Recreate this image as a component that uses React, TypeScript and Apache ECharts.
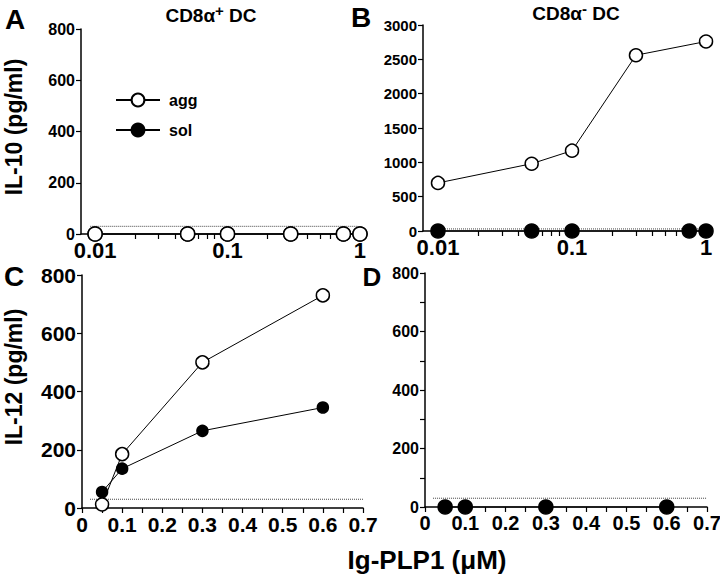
import React, { useEffect, useRef } from "react";
import * as echarts from "echarts";

const FONT = '"Liberation Sans", Arial, Helvetica, sans-serif';

// Panel A (IL-10, CD8a+ DC), log x
const aggAx = [0.01, 0.05, 0.1, 0.3, 0.75, 1];
const aggAy = [0, 0, 0, 0, 0, 0];
const solAx = [0.01, 0.05, 0.1, 0.3, 0.75, 1];
const solAy = [0, 0, 0, 0, 0, 0];

// Panel B (IL-10, CD8a- DC), log x
const aggBx = [0.01, 0.05, 0.1, 0.3, 1];
const aggBy = [700, 980, 1170, 2560, 2760];
const solBx = [0.01, 0.05, 0.1, 0.75, 1];
const solBy = [0, 0, 0, 0, 0];

// Panel C (IL-12, CD8a+ DC), linear x
const aggCx = [0.05, 0.1, 0.3, 0.6];
const aggCy = [12, 185, 500, 730];
const solCx = [0.05, 0.1, 0.3, 0.6];
const solCy = [55, 135, 265, 345];

// Panel D (IL-12, CD8a- DC), linear x
const solDx = [0.05, 0.1, 0.3, 0.6];
const solDy = [0, 0, 0, 0];

// detection limit (dotted)
const limit = 30;
const limitA = [0.0092, 0.97];
const limitB = [0.0095, 1.0];
const limitC = [0.02, 0.7];
const limitD = [0.02, 0.7];

const logLabels = [0.01, 0.1, 1];
const logTicks = [
  0.01, 0.02, 0.03, 0.04, 0.05, 0.06, 0.07, 0.08, 0.09,
  0.1, 0.2, 0.3, 0.4, 0.5, 0.6, 0.7, 0.8, 0.9, 1,
];

const pair = (xs: number[], ys: number[]) => xs.map((x, i) => [x, ys[i]]);

function markSeries(name: string, idx: number, xs: number[], ys: number[], filled: boolean, size: number) {
  return {
    type: "line",
    name,
    xAxisIndex: idx,
    yAxisIndex: idx,
    data: pair(xs, ys),
    symbol: "circle",
    symbolSize: size,
    showSymbol: true,
    clip: false,
    itemStyle: { color: filled ? "#000" : "#fff", borderColor: "#000", borderWidth: 1.5 },
    lineStyle: { color: "#000", width: 1 },
    z: filled ? 3 : 4,
    silent: true,
  };
}

function limitSeries(idx: number, range: number[]) {
  return {
    type: "line",
    name: "limit",
    xAxisIndex: idx,
    yAxisIndex: idx,
    data: [[range[0], limit], [range[1], limit]],
    symbol: "none",
    clip: false,
    lineStyle: { color: "#444", width: 1, type: [1, 1] },
    z: 2,
    silent: true,
  };
}

const axisLine = { show: true, onZero: false, lineStyle: { color: "#000", width: 1.5 } };
const tickStyle = { color: "#000", width: 1.2 };

function logXAxis(idx: number, min: number, max: number, fs: number) {
  return {
    type: "log",
    logBase: 10,
    gridIndex: idx,
    min,
    max,
    axisLine,
    axisTick: { show: true, customValues: logTicks, length: 5, lineStyle: tickStyle },
    axisLabel: {
      customValues: logLabels,
      formatter: (v: number) => String(+(+v).toPrecision(3)),
      fontFamily: FONT,
      fontWeight: "bold",
      fontSize: fs,
      color: "#000",
      margin: 5,
      lineHeight: fs,
    },
    splitLine: { show: false },
    minorTick: { show: false },
  };
}

function linXAxis(idx: number, fs: number) {
  return {
    type: "value",
    gridIndex: idx,
    min: 0,
    max: 0.7,
    interval: 0.1,
    axisLine,
    axisTick: { show: true, length: 5, lineStyle: tickStyle },
    minorTick: { show: true, splitNumber: 2, length: 5, lineStyle: tickStyle },
    axisLabel: {
      formatter: (v: number) => String(+(+v).toFixed(1)),
      fontFamily: FONT,
      fontWeight: "bold",
      fontSize: fs,
      color: "#000",
      margin: 6,
    },
    splitLine: { show: false },
  };
}

function yAxis(idx: number, max: number, interval: number, fs: number, minor: boolean) {
  return {
    type: "value",
    gridIndex: idx,
    min: 0,
    max,
    interval,
    axisLine,
    axisTick: { show: true, length: 5, lineStyle: tickStyle },
    minorTick: { show: minor, splitNumber: 2, length: 5, lineStyle: tickStyle },
    axisLabel: {
      formatter: (v: number) => String(v),
      fontFamily: FONT,
      fontWeight: "bold",
      fontSize: fs,
      color: "#000",
      margin: 6,
    },
    splitLine: { show: false },
  };
}

function txt(text: string, x: number, y: number, size: number, extra: any = {}) {
  return {
    type: "text",
    x,
    y,
    ...extra,
    style: {
      text,
      fontFamily: FONT,
      fontWeight: "bold",
      fontSize: size,
      lineHeight: size,
      fill: "#000",
      align: "center",
      verticalAlign: "middle",
    },
  };
}

function titleText(text: string, x: number, y: number) {
  return {
    type: "text",
    x,
    y,
    style: {
      text,
      fontFamily: FONT,
      fill: "#000",
      align: "center",
      verticalAlign: "middle",
      rich: {
        b: { fontFamily: FONT, fontWeight: "bold", fontSize: 19, fill: "#000", verticalAlign: "bottom", lineHeight: 22 },
        s: { fontFamily: FONT, fontWeight: "bold", fontSize: 15, fill: "#000", verticalAlign: "top", lineHeight: 22 },
      },
    },
  };
}

export default function App() {
  const ref = useRef<HTMLDivElement>(null);
  useEffect(() => {
    document.body.style.margin = "0";
    const chart = echarts.init(ref.current!, null, { renderer: "svg" });
    const option: any = {
      animation: false,
      backgroundColor: "#fff",
      grid: [
        { left: 81, top: 29, width: 286, height: 205, outerBoundsMode: "none" },
        { left: 423, top: 25, width: 288, height: 206, outerBoundsMode: "none" },
        { left: 82, top: 275, width: 281, height: 233, outerBoundsMode: "none" },
        { left: 425, top: 273, width: 282, height: 234, outerBoundsMode: "none" },
      ],
      xAxis: [
        logXAxis(0, 0.00783, 1.13, 22),
        logXAxis(1, 0.00773, 1.089, 22),
        linXAxis(2, 21),
        linXAxis(3, 20),
      ],
      yAxis: [
        yAxis(0, 800, 200, 16, false),
        yAxis(1, 3000, 500, 15, false),
        yAxis(2, 800, 200, 21, false),
        yAxis(3, 800, 200, 16, true),
      ],
      legend: {
        data: ["agg", "sol"],
        orient: "vertical",
        left: 110,
        top: 87,
        itemWidth: 44,
        itemHeight: 16,
        itemGap: 14,
        selectedMode: false,
        textStyle: { fontFamily: FONT, fontWeight: "bold", fontSize: 16, color: "#000", padding: [0, 0, 0, 4] },
      },
      series: [
        limitSeries(0, limitA),
        markSeries("sol", 0, solAx, solAy, true, 14),
        markSeries("agg", 0, aggAx, aggAy, false, 14),
        limitSeries(1, limitB),
        markSeries("agg", 1, aggBx, aggBy, false, 13),
        markSeries("sol", 1, solBx, solBy, true, 14),
        limitSeries(2, limitC),
        markSeries("sol", 2, solCx, solCy, true, 11),
        markSeries("agg", 2, aggCx, aggCy, false, 13),
        limitSeries(3, limitD),
        markSeries("sol", 3, solDx, solDy, true, 14),
      ],
      graphic: [
        txt("A", 15, 19, 28),
        txt("B", 361, 17, 28),
        txt("C", 14, 276, 28),
        txt("D", 372, 277, 26),
        titleText("{b|CD8α}{s|+}{b| DC}", 211, 14),
        titleText("{b|CD8α}{s|-}{b| DC}", 576, 12),
        txt("IL-10 (pg/ml)", 14, 127, 23, { rotation: Math.PI / 2 }),
        txt("IL-12 (pg/ml)", 14, 377, 23, { rotation: Math.PI / 2 }),
        txt("Ig-PLP1 (μM)", 427, 560, 26),
      ],
    };
    chart.setOption(option);
    return () => chart.dispose();
  }, []);
  return <div ref={ref} style={{ width: 720, height: 583 }} />;
}
